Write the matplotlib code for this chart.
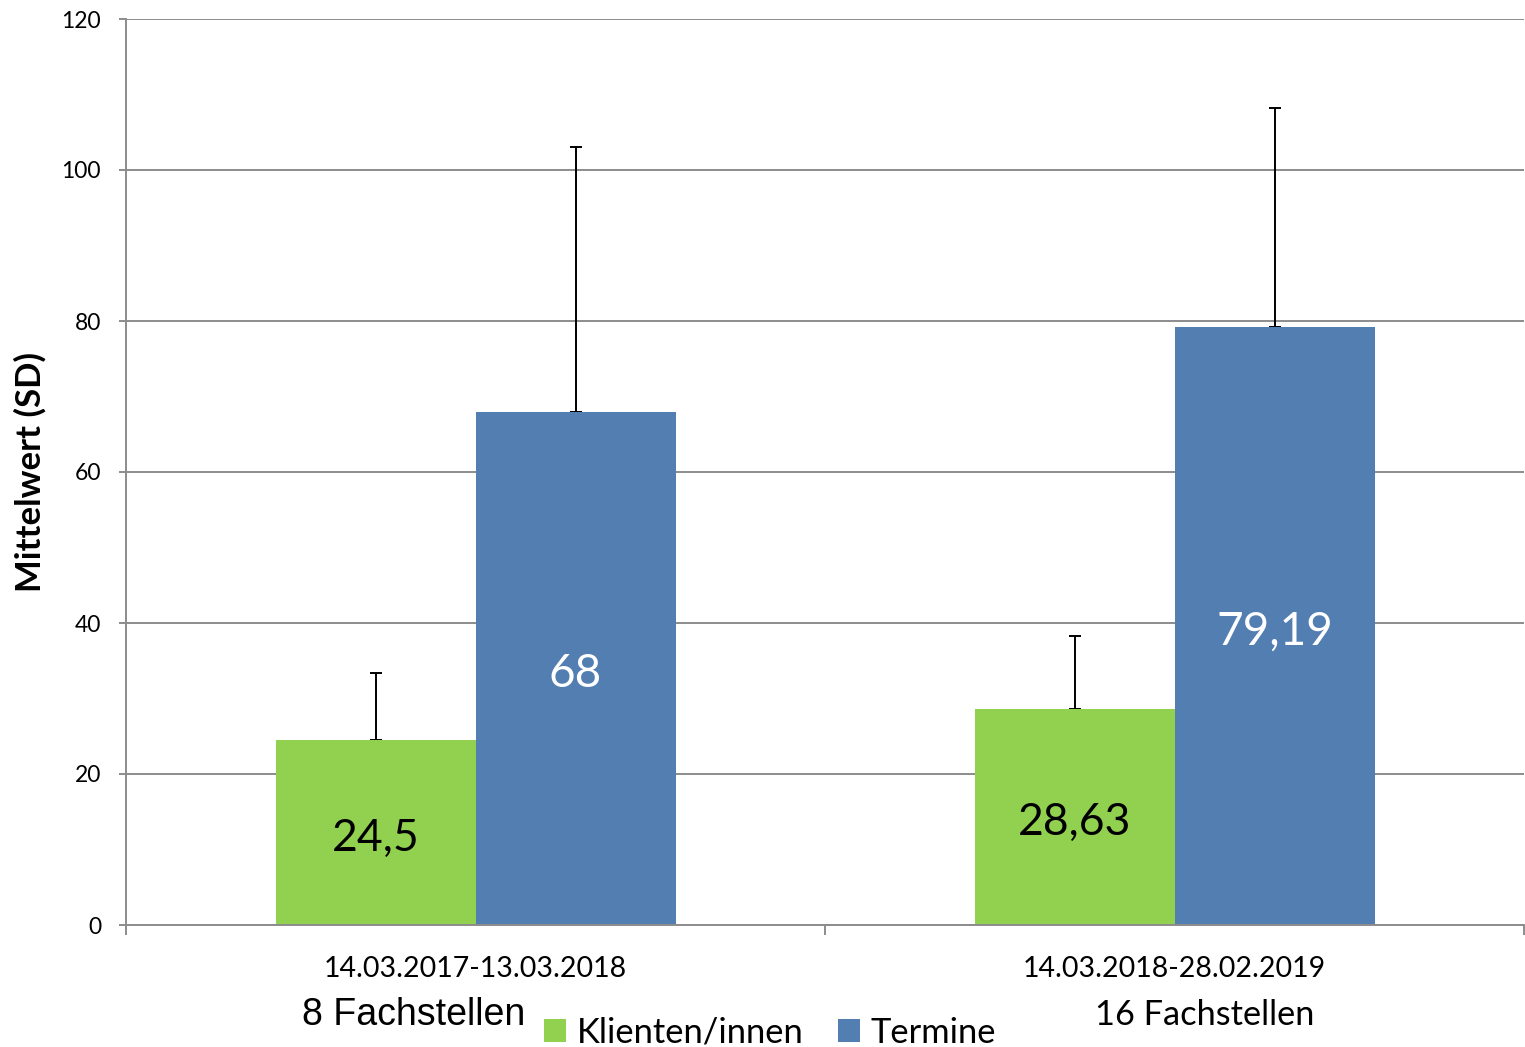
import numpy as np
import matplotlib.pyplot as plt
from matplotlib.ticker import FixedLocator

perioden = ["14.03.2017-13.03.2018", "14.03.2018-28.02.2019"]
fachstellen = ["8 Fachstellen", "16 Fachstellen"]
serien = ["Klienten/innen", "Termine"]
klienten_mw = [24.5, 28.63]
klienten_sd = [8.9, 9.7]
termine_mw = [68, 79.19]
termine_sd = [35.0, 29.0]

gruen = '#92D050'
blau = '#537EB2'
grau = '#8C8C8C'

plt.rcParams['font.family'] = ['Lato', 'DejaVu Sans']

fig = plt.figure(figsize=(15.25, 10.47), dpi=100)
ax = fig.add_axes([126/1525, 1 - 925/1047, 1 - 126/1525 - 0.0005, (925 - 19)/1047])

x = np.arange(len(perioden))
w = 0.286
b1 = ax.bar(x - w/2, klienten_mw, w, color=gruen, label=serien[0], zorder=2)
b2 = ax.bar(x + w/2, termine_mw, w, color=blau, label=serien[1], zorder=2)

for bars, mw, sd in [(b1, klienten_mw, klienten_sd), (b2, termine_mw, termine_sd)]:
    ax.errorbar([r.get_x() + r.get_width()/2 for r in bars], mw,
                yerr=[np.zeros(len(sd)), sd], fmt='none', ecolor='black',
                elinewidth=1.4, capsize=4.5, capthick=1.4, zorder=1)

fmt = lambda vals: [f"{v:g}".replace('.', ',') for v in vals]
lab1 = ax.bar_label(b1, labels=fmt(klienten_mw), label_type='center', fontsize=32, color='black')
lab2 = ax.bar_label(b2, labels=fmt(termine_mw), label_type='center', fontsize=33, color='white')
for t in lab1 + lab2:
    t.xyann = (0, -4)

ax.set_xlim(-0.5, len(perioden) - 0.5)
ax.set_ylim(0, 120)
ax.set_yticks(np.arange(0, 121, 20))
ax.yaxis.grid(True, color=grau, linewidth=1.4, zorder=0)
ax.set_axisbelow(True)

ax.set_xticks(x)
ax.set_xticklabels(perioden, fontsize=20.5)
ax.xaxis.set_minor_locator(FixedLocator([-0.5, 0.5, 1.5]))
ax.tick_params(axis='x', which='major', length=0, pad=22)
ax.tick_params(axis='x', which='minor', length=7, width=1.4, color=grau)
ax.tick_params(axis='y', length=5, width=1.4, color=grau, labelsize=16.5, pad=13)

for s in ['top', 'right']:
    ax.spines[s].set_visible(False)
for s in ['left', 'bottom']:
    ax.spines[s].set_color(grau)
    ax.spines[s].set_linewidth(1.4)

ax.set_ylabel("Mittelwert (SD)", fontsize=25, fontweight='bold')
ax.yaxis.set_label_coords(-(126 - 47)/1399, (925 - 472)/906)

fig.text(414/1525, 1 - 1015/1047, fachstellen[0], fontsize=27,
         family='Liberation Sans', ha='center', va='center')
fig.text(1205/1525, 1 - 1015/1047, fachstellen[1], fontsize=24.75,
         ha='center', va='center')

fig.legend(handles=[b1, b2], loc='center left', bbox_to_anchor=(544/1525, 1 - 1033/1047),
           ncol=2, frameon=False, fontsize=24.8, handlelength=0.65, handleheight=0.65,
           handletextpad=0.3, columnspacing=1.0, borderpad=0, borderaxespad=0)

fig.savefig('out.png', dpi=100)
